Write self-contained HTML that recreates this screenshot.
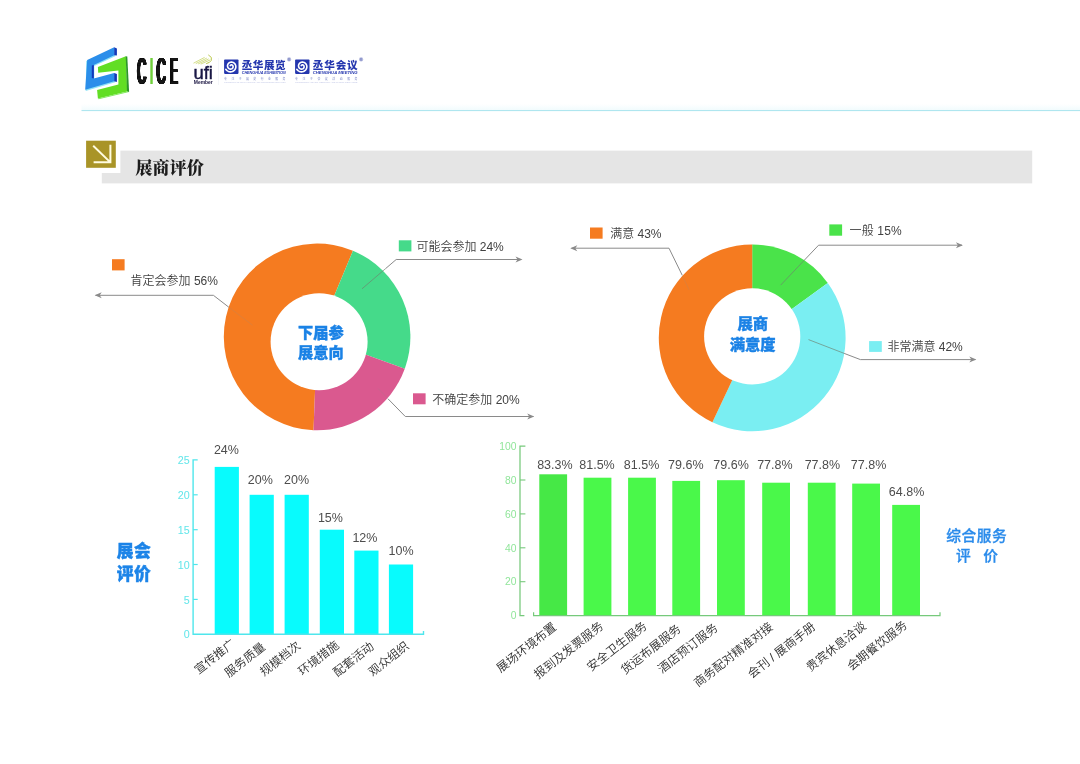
<!DOCTYPE html>
<html lang="zh-CN">
<head>
<meta charset="utf-8">
<title>展商评价</title>
<style>
html,body{margin:0;padding:0;background:#fff;}
body{width:1080px;height:764px;overflow:hidden;font-family:"Liberation Sans", "Noto Sans CJK SC", sans-serif;}
svg{display:block;}
text{font-family:"Liberation Sans", "Noto Sans CJK SC", sans-serif;}
.lbl{font-size:12px;font-weight:350;fill:#414141;}
.val{font-size:12.5px;font-weight:350;fill:#4d4d4d;}
.xl{font-weight:350;fill:#2e2e2e;}
.ctr{font-weight:900;fill:#1a82e6;stroke:#1a82e6;stroke-width:.35;text-anchor:middle;}
.lead{fill:none;stroke:#8a8a8a;stroke-width:1;}
.leadin{fill:none;stroke:#8a8a8a;stroke-width:1;opacity:.2;}
.leadin2{fill:none;stroke:#6f7f6f;stroke-width:1;opacity:.65;}
.ah{fill:#8a8a8a;}
</style>
</head>
<body>
<svg width="1080" height="764" viewBox="0 0 1080 764">
<defs>
<linearGradient id="hg" x1="0" y1="0" x2="0" y2="1"><stop offset="0" stop-color="#ffffff"/><stop offset="1" stop-color="#f1fbfd"/></linearGradient>
</defs>
<rect width="1080" height="764" fill="#ffffff"/>

<!-- header -->
<rect x="81.5" y="104" width="998.5" height="6.2" fill="url(#hg)"/>
<rect x="81.5" y="110" width="998.5" height="1.1" fill="#afe6ef"/>
<g id="cice-mark">
<polygon points="86.2,60.9 115.2,48.1 115.2,56.3 94.3,66.0 94.3,79.2 115.2,73.6 115.2,82.3 85.7,90.9" fill="#8fe3f7"/>
<polygon points="87.2,59.9 114.2,47.3 114.2,55.3 93.8,65.0 93.8,78.5 114.2,73.1 114.2,81.3 85.2,89.7" fill="#2b8eea"/>
<polygon points="114.2,47.3 116.9,48.4 116.9,55.5 114.2,55.3" fill="#1438b8"/>
<polygon points="114.2,73.1 116.9,74.1 116.9,82.0 114.2,81.3" fill="#1438b8"/>
<polygon points="91.8,65.5 93.8,65.0 93.8,78.5 91.8,77.9" fill="#1438b8"/>
<polygon points="97.9,67.0 125.9,56.3 127.2,91.4 97.9,98.6 97.1,89.9 118.4,84.5 118.4,70.6 98.2,72.8" fill="#62de24"/>
<polygon points="125.7,56.3 127.3,56.5 129.1,92.0 127.0,91.4" fill="#2d962a"/>
<polygon points="97.9,98.6 127.2,91.4 129.1,92.0 98.6,99.3" fill="#7ee85a"/>
</g>
<filter id="fat" x="-10%" y="-10%" width="120%" height="120%"><feMorphology operator="dilate" radius="0.6 0"/><feComponentTransfer><feFuncA type="linear" slope="2.2" intercept="-0.1"/></feComponentTransfer></filter>
<g id="cice-text" fill="#141414" font-weight="400" font-size="35.2" filter="url(#fat)">
<text transform="translate(137.3,83.9) scale(0.35,1.035)" x="0" y="0">C</text>
<text transform="translate(156.8,83.9) scale(0.35,1.035)" x="0" y="0">C</text>
<text transform="translate(170.3,83.9) scale(0.315,1.035)" x="0" y="0">E</text>
</g>
<text transform="translate(148.0,83.9) scale(0.72,1.04)" font-size="35.2" fill="#6fcf3a">I</text>
<g id="ufi">
<path d="M193.5,63.2 L204.6,57.4 M195.8,63.6 L206.8,58.1 M198.2,63.9 L208.7,58.9 M200.7,64.1 L210.3,59.9" fill="none" stroke="#bccb45" stroke-width="0.75" opacity="0.85"/>
<path d="M208.3,54.9 Q212.8,57.2 211.3,60.4 Q210,62.8 206.2,63.6" fill="none" stroke="#b3c238" stroke-width="1" opacity="0.9"/>
<text x="193.4" y="78.7" font-size="18" fill="#1a1845" stroke="#1a1845" stroke-width="0.45" textLength="19.5" lengthAdjust="spacingAndGlyphs">ufi</text>
<text x="193.8" y="83.5" font-size="4.9" font-weight="700" fill="#1b1642" textLength="19" lengthAdjust="spacingAndGlyphs">Member</text>
</g>
<rect x="218" y="58" width="0.6" height="27" fill="#eceef6"/>
<g>
<rect x="224.1" y="59.5" width="14.4" height="14.4" rx="0.8" fill="#2436ae"/>
<path d="M230.26,65.63 L230.35,65.44 L230.48,65.26 L230.66,65.10 L230.89,64.97 L231.15,64.89 L231.43,64.86 L231.73,64.90 L232.04,64.99 L232.32,65.16 L232.59,65.38 L232.81,65.67 L232.98,66.01 L233.08,66.39 L233.11,66.79 L233.06,67.22 L232.92,67.63 L232.69,68.03 L232.38,68.38 L232.00,68.68 L231.55,68.91 L231.06,69.05 L230.53,69.09 L229.98,69.03 L229.45,68.87 L228.94,68.59 L228.48,68.21 L228.09,67.75 L227.79,67.20 L227.60,66.59 L227.52,65.93 L227.57,65.26 L227.75,64.60 L228.06,63.97 L228.50,63.40 L229.04,62.91 L229.68,62.52 L230.40,62.26 L231.17,62.14 L231.97,62.16 L232.76,62.34 L233.52,62.67 L234.22,63.15 L234.82,63.76 L235.30,64.49 L235.65,65.31 L235.83,66.20 L235.85,67.12 L235.69,68.04 L235.35,68.93 L234.84,69.76 L234.17,70.48 L233.37,71.08 L232.46,71.52 L231.46,71.78 L230.42,71.85 L229.36,71.72 L228.34,71.40 L227.38,70.87 L226.52,70.17 L225.80,69.30" fill="none" stroke="#ffffff" stroke-width="1.6" stroke-linecap="round" stroke-linejoin="round"/>
<text x="241.70000000000002" y="68.9" font-size="10.6" font-weight="900" fill="#2436ae" textLength="44" lengthAdjust="spacing">丞华展览</text>
<circle cx="289.1" cy="59.4" r="2.1" fill="#b4b9de"/>
<text x="289.1" y="60.5" font-size="3" font-weight="700" fill="#7f88c4" text-anchor="middle">R</text>
<text x="241.70000000000002" y="73.5" font-size="3.3" font-weight="700" font-style="italic" fill="#2436ae" textLength="44" lengthAdjust="spacingAndGlyphs">CHENGHUA EXHIBITION</text>
<text x="224.1" y="79.5" font-size="2.9" font-weight="500" fill="#8f98cf" textLength="61.4" lengthAdjust="spacing">专注于展览行业服务</text>
<text x="224.1" y="82.8" font-size="1.9" fill="#c3c8e6" textLength="61.4" lengthAdjust="spacingAndGlyphs">CONCENTRATE ON EXHIBITION AND CONFERENCE SERVICES</text>
</g>
<g>
<rect x="295.09999999999997" y="59.5" width="14.4" height="14.4" rx="0.8" fill="#2436ae"/>
<path d="M301.26,65.63 L301.35,65.44 L301.48,65.26 L301.66,65.10 L301.89,64.97 L302.15,64.89 L302.43,64.86 L302.73,64.90 L303.04,64.99 L303.32,65.16 L303.59,65.38 L303.81,65.67 L303.98,66.01 L304.08,66.39 L304.11,66.79 L304.06,67.22 L303.92,67.63 L303.69,68.03 L303.38,68.38 L303.00,68.68 L302.55,68.91 L302.06,69.05 L301.53,69.09 L300.98,69.03 L300.45,68.87 L299.94,68.59 L299.48,68.21 L299.09,67.75 L298.79,67.20 L298.60,66.59 L298.52,65.93 L298.57,65.26 L298.75,64.60 L299.06,63.97 L299.50,63.40 L300.04,62.91 L300.68,62.52 L301.40,62.26 L302.17,62.14 L302.97,62.16 L303.76,62.34 L304.52,62.67 L305.22,63.15 L305.82,63.76 L306.30,64.49 L306.65,65.31 L306.83,66.20 L306.85,67.12 L306.69,68.04 L306.35,68.93 L305.84,69.76 L305.17,70.48 L304.37,71.08 L303.46,71.52 L302.46,71.78 L301.42,71.85 L300.36,71.72 L299.34,71.40 L298.38,70.87 L297.52,70.17 L296.80,69.30" fill="none" stroke="#ffffff" stroke-width="1.6" stroke-linecap="round" stroke-linejoin="round"/>
<text x="312.7" y="68.9" font-size="10.6" font-weight="900" fill="#2436ae" textLength="45" lengthAdjust="spacing">丞华会议</text>
<circle cx="361.1" cy="59.4" r="2.1" fill="#b4b9de"/>
<text x="361.1" y="60.5" font-size="3" font-weight="700" fill="#7f88c4" text-anchor="middle">R</text>
<text x="312.7" y="73.5" font-size="3.3" font-weight="700" font-style="italic" fill="#2436ae" textLength="45" lengthAdjust="spacingAndGlyphs">CHENGHUA MEETING</text>
<text x="295.09999999999997" y="79.5" font-size="2.9" font-weight="500" fill="#8f98cf" textLength="62.4" lengthAdjust="spacing">专注于会议活动服务</text>
<text x="295.09999999999997" y="82.8" font-size="1.9" fill="#c3c8e6" textLength="62.4" lengthAdjust="spacingAndGlyphs">CONCENTRATE ON MEETING AND EVENT SERVICES</text>
</g>
<!-- section title -->
<rect x="101.8" y="150.6" width="930.4" height="32.8" fill="#e5e5e5"/>
<rect x="82" y="137" width="38.4" height="36" fill="#ffffff"/>
<rect x="86.1" y="140.7" width="29.7" height="27.1" fill="#a99427"/>
<path d="M93.2,145.8 L109.6,161.6 M93.6,162.3 H110.4 V144.8" fill="none" stroke="#fffce0" stroke-width="2" stroke-linecap="butt" stroke-linejoin="miter"/>
<text x="135.2" y="173.6" font-size="17.2" font-weight="900" fill="#1c1c1c" style="font-family:'Liberation Serif', 'Noto Serif CJK SC', serif">展商评价</text>
<!-- donut left -->
<path d="M317.10,336.90 L313.52,430.13 A93.3,93.3 0 1 1 352.95,250.76 Z" fill="#f57b20"/>
<path d="M317.10,336.90 L352.95,250.76 A93.3,93.3 0 0 1 404.77,368.81 Z" fill="#45da8a"/>
<path d="M317.10,336.90 L404.77,368.81 A93.3,93.3 0 0 1 313.52,430.13 Z" fill="#da598f"/>
<circle cx="319.1" cy="341.8" r="48.5" fill="#ffffff"/>
<text class="ctr" font-size="15.2"><tspan x="320.9" y="337.7">下届参</tspan><tspan x="320.9" y="357.9">展意向</tspan></text>
<path class="lead" d="M95.5,295.3 H213.4 L228.8,307.2"/>
<path class="leadin" d="M228.8,307.2 L252.5,325.2"/>
<path class="ah" d="M94.7,295.3 l7,-3 l-2,3 l2,3 z"/>
<rect x="112" y="259.2" width="12.6" height="11.2" fill="#f57b20"/>
<text class="lbl" x="130.6" y="284.9">肯定会参加 56%</text>
<path class="lead" d="M521,259.5 H396.2 L385.6,268.6"/>
<path class="leadin2" d="M385.6,268.6 L362,288.8"/>
<path class="ah" d="M522.5,259.5 l-7,-3 l2,3 l-2,3 z"/>
<rect x="398.8" y="240.3" width="12.6" height="11.1" fill="#45da8a"/>
<text class="lbl" x="416.4" y="250.5">可能会参加 24%</text>
<path class="lead" d="M533.4,416.5 H405.3 L388,398.8"/>
<path class="leadin" d="M388,398.8 L378,388.4"/>
<path class="ah" d="M534.2,416.5 l-7,-3 l2,3 l-2,3 z"/>
<rect x="413" y="393.3" width="12.6" height="11" fill="#da598f"/>
<text class="lbl" x="432.3" y="404">不确定参加 20%</text>
<!-- donut right -->
<path d="M752.20,337.80 L752.20,244.40 A93.4,93.4 0 0 1 827.76,282.90 Z" fill="#4ae34a"/>
<path d="M752.20,337.80 L827.76,282.90 A93.4,93.4 0 0 1 712.43,422.31 Z" fill="#7aeef2"/>
<path d="M752.20,337.80 L712.43,422.31 A93.4,93.4 0 0 1 752.20,244.40 Z" fill="#f57b20"/>
<circle cx="752.2" cy="336.4" r="48.1" fill="#ffffff"/>
<text class="ctr" font-size="15.3"><tspan x="752.8" y="329.3">展商</tspan><tspan x="752.6" y="349.6">满意度</tspan></text>
<path class="lead" d="M571.6,248.2 H669 L682.2,275.2"/>
<path class="leadin" d="M682.2,275.2 L689,289.8"/>
<path class="ah" d="M570.3,248.2 l7,-3 l-2,3 l2,3 z"/>
<rect x="590" y="227.5" width="12.6" height="11.2" fill="#f57b20"/>
<text class="lbl" x="610.3" y="237.8" textLength="51.2" lengthAdjust="spacing">满意 43%</text>
<path class="lead" d="M962,245.2 H818.6 L804.5,260"/>
<path class="leadin2" d="M804.5,260 L780.7,285.1"/>
<path class="ah" d="M962.9,245.2 l-7,-3 l2,3 l-2,3 z"/>
<rect x="829.3" y="224.4" width="12.8" height="11.3" fill="#4ae34a"/>
<text class="lbl" x="849.6" y="235.4" textLength="52" lengthAdjust="spacing">一般 15%</text>
<path class="lead" d="M975.4,359.6 H860.4 L844.2,353.4"/>
<path class="leadin2" d="M844.2,353.4 L808.5,339.6"/>
<path class="ah" d="M976.3,359.6 l-7,-3 l2,3 l-2,3 z"/>
<rect x="869.1" y="341.1" width="12.7" height="10.8" fill="#7aeef2"/>
<text class="lbl" x="887.4" y="351.2">非常满意 42%</text>
<!-- bar chart left -->
<rect x="214.7" y="466.9" width="24.2" height="167.3" fill="#08fbfd"/>
<text class="val" x="226.4" y="454.2" text-anchor="middle">24%</text>
<rect x="249.6" y="494.8" width="24.2" height="139.4" fill="#08fbfd"/>
<text class="val" x="260.3" y="484.2" text-anchor="middle">20%</text>
<rect x="284.6" y="494.8" width="24.2" height="139.4" fill="#08fbfd"/>
<text class="val" x="296.5" y="484.2" text-anchor="middle">20%</text>
<rect x="319.8" y="529.7" width="24.2" height="104.5" fill="#08fbfd"/>
<text class="val" x="330.4" y="521.7" text-anchor="middle">15%</text>
<rect x="354.3" y="550.6" width="24.2" height="83.6" fill="#08fbfd"/>
<text class="val" x="364.9" y="541.6" text-anchor="middle">12%</text>
<rect x="388.9" y="564.5" width="24.2" height="69.7" fill="#08fbfd"/>
<text class="val" x="401.1" y="554.5" text-anchor="middle">10%</text>
<path d="M197.7,459.9 H193.1 V634.2 H423.5 V631" fill="none" stroke="#4fe6ec" stroke-width="1.4"/>
<text x="189.6" y="638.3" font-size="10.7" fill="#62e6ea" text-anchor="end">0</text>
<path d="M193.1,599.4 H197.7" stroke="#4fe6ec" stroke-width="1.2"/>
<text x="189.6" y="603.5" font-size="10.7" fill="#62e6ea" text-anchor="end">5</text>
<path d="M193.1,564.5 H197.7" stroke="#4fe6ec" stroke-width="1.2"/>
<text x="189.6" y="568.6" font-size="10.7" fill="#62e6ea" text-anchor="end">10</text>
<path d="M193.1,529.7 H197.7" stroke="#4fe6ec" stroke-width="1.2"/>
<text x="189.6" y="533.8" font-size="10.7" fill="#62e6ea" text-anchor="end">15</text>
<path d="M193.1,494.8 H197.7" stroke="#4fe6ec" stroke-width="1.2"/>
<text x="189.6" y="498.9" font-size="10.7" fill="#62e6ea" text-anchor="end">20</text>
<text x="189.6" y="464.1" font-size="10.7" fill="#62e6ea" text-anchor="end">25</text>
<text class="xl" font-size="11.9" text-anchor="end" transform="translate(236.1,645.1) rotate(-38)">宣传推广</text>
<text class="xl" font-size="11.9" text-anchor="end" transform="translate(266.2,648.4) rotate(-38)">服务质量</text>
<text class="xl" font-size="11.9" text-anchor="end" transform="translate(301.5,647.2) rotate(-38)">规模档次</text>
<text class="xl" font-size="11.9" text-anchor="end" transform="translate(339.8,646.7) rotate(-38)">环境措施</text>
<text class="xl" font-size="11.9" text-anchor="end" transform="translate(374.7,647.9) rotate(-38)">配套活动</text>
<text class="xl" font-size="11.9" text-anchor="end" transform="translate(410.0,647.4) rotate(-38)">观众组织</text>
<text font-size="16.7" font-weight="900" fill="#1c84e8" stroke="#1c84e8" stroke-width="0.45" letter-spacing="0.7"><tspan x="116.7" y="557.1">展会</tspan><tspan x="116.7" y="579.9">评价</tspan></text>
<!-- bar chart right -->
<rect x="539.3" y="474.3" width="27.8" height="141.3" fill="#46e846"/>
<text class="val" x="554.9" y="469.4" text-anchor="middle">83.3%</text>
<rect x="583.6" y="477.7" width="27.8" height="137.9" fill="#4af84a"/>
<text class="val" x="597.0" y="469.4" text-anchor="middle">81.5%</text>
<rect x="628.1" y="477.7" width="27.8" height="137.9" fill="#4af84a"/>
<text class="val" x="641.6" y="469.4" text-anchor="middle">81.5%</text>
<rect x="672.3" y="480.9" width="27.8" height="134.7" fill="#4af84a"/>
<text class="val" x="685.8" y="469.4" text-anchor="middle">79.6%</text>
<rect x="717.0" y="480.2" width="27.8" height="135.4" fill="#4af84a"/>
<text class="val" x="731.1" y="469.4" text-anchor="middle">79.6%</text>
<rect x="762.2" y="482.7" width="27.8" height="132.9" fill="#4af84a"/>
<text class="val" x="774.9" y="469.4" text-anchor="middle">77.8%</text>
<rect x="807.8" y="482.7" width="27.8" height="132.9" fill="#4af84a"/>
<text class="val" x="822.4" y="469.4" text-anchor="middle">77.8%</text>
<rect x="852.2" y="483.6" width="27.8" height="132.0" fill="#4af84a"/>
<text class="val" x="868.6" y="469.4" text-anchor="middle">77.8%</text>
<rect x="892.2" y="504.9" width="27.8" height="110.7" fill="#4af84a"/>
<text class="val" x="906.6" y="496.4" text-anchor="middle">64.8%</text>
<path d="M525.4,446.1 H520 V615.6 H524.4" fill="none" stroke="#76c97b" stroke-width="1.25"/>
<path d="M533.6,612.2 V615.6 H940 V612.2" fill="none" stroke="#76c97b" stroke-width="1.2"/>
<text x="516.4" y="619.3" font-size="10.3" fill="#90e59a" text-anchor="end">0</text>
<path d="M520,581.7 H525.4" stroke="#76c97b" stroke-width="1.1"/>
<text x="516.4" y="585.4" font-size="10.3" fill="#90e59a" text-anchor="end">20</text>
<path d="M520,547.8 H525.4" stroke="#76c97b" stroke-width="1.1"/>
<text x="516.4" y="551.5" font-size="10.3" fill="#90e59a" text-anchor="end">40</text>
<path d="M520,513.9 H525.4" stroke="#76c97b" stroke-width="1.1"/>
<text x="516.4" y="517.6" font-size="10.3" fill="#90e59a" text-anchor="end">60</text>
<path d="M520,480.0 H525.4" stroke="#76c97b" stroke-width="1.1"/>
<text x="516.4" y="483.7" font-size="10.3" fill="#90e59a" text-anchor="end">80</text>
<text x="516.4" y="449.8" font-size="10.3" fill="#90e59a" text-anchor="end">100</text>
<text class="xl" font-size="12" text-anchor="end" transform="translate(557.3,628.7) rotate(-38)">展场环境布置</text>
<text class="xl" font-size="12" text-anchor="end" transform="translate(604.2,627.6) rotate(-38)">报到及发票服务</text>
<text class="xl" font-size="12" text-anchor="end" transform="translate(647.8,627.5) rotate(-38)">安全卫生服务</text>
<text class="xl" font-size="12" text-anchor="end" transform="translate(681.8,630.3) rotate(-38)">货运布展服务</text>
<text class="xl" font-size="12" text-anchor="end" transform="translate(718.7,629.3) rotate(-38)">酒店预订服务</text>
<text class="xl" font-size="12" text-anchor="end" transform="translate(773.6,628.4) rotate(-38)">商务配对精准对接</text>
<text class="xl" font-size="12" text-anchor="end" transform="translate(816.3,628.2) rotate(-38)">会刊 / 展商手册</text>
<text class="xl" font-size="12" text-anchor="end" transform="translate(867.0,627.6) rotate(-38)">贵宾休息洽谈</text>
<text class="xl" font-size="12" text-anchor="end" transform="translate(907.9,626.7) rotate(-38)">会期餐饮服务</text>
<text font-size="14.7" font-weight="500" fill="#2a8beb" stroke="#2a8beb" stroke-width="0.3" letter-spacing="0.55"><tspan x="946.2" y="540.5">综合服务</tspan><tspan x="955.9" y="560.6">评</tspan><tspan x="983.2" y="560.6">价</tspan></text>
</svg>
</body>
</html>
